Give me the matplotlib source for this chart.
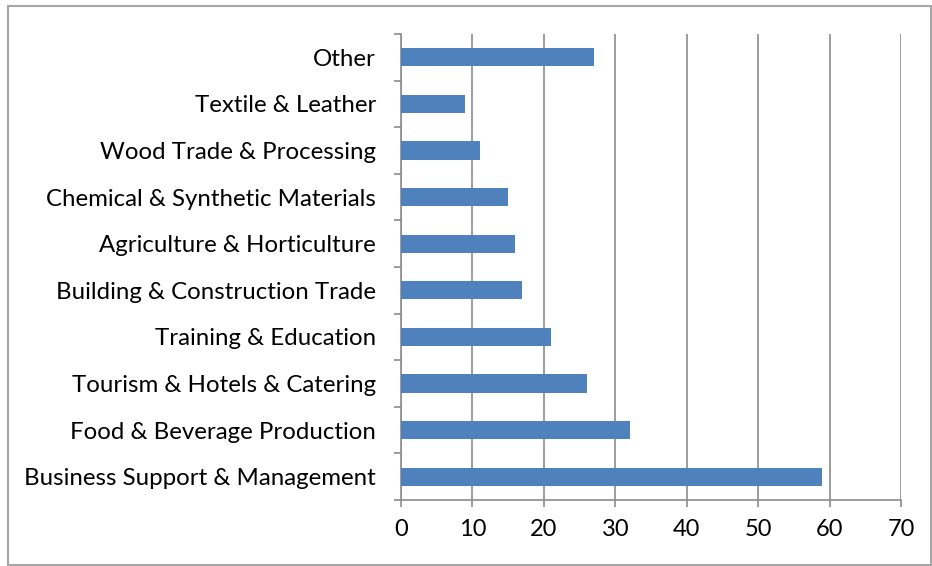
import matplotlib
matplotlib.use('Agg')
import matplotlib.pyplot as plt
from matplotlib.patches import Rectangle
import numpy as np

categories = ['Business Support & Management', 'Food & Beverage Production',
              'Tourism & Hotels & Catering', 'Training & Education',
              'Building & Construction Trade', 'Agriculture & Horticulture',
              'Chemical & Synthetic Materials', 'Wood Trade & Processing',
              'Textile & Leather', 'Other']
values = [59, 32, 26, 21, 17, 16, 15, 11, 9, 27]
x_ticks = [0, 10, 20, 30, 40, 50, 60, 70]

plt.rcParams['font.family'] = ['Lato', 'DejaVu Sans']

W, H = 932, 566
fig = plt.figure(figsize=(W / 100, H / 100), dpi=100)
ax = fig.add_axes([401 / W, 1 - 500 / H, 500 / W, 466 / H])

# outer chart border
fig.patches.append(Rectangle((8 / W, 1 - 565 / H), 923 / W, 559 / H,
                             transform=fig.transFigure, fill=False,
                             edgecolor='#a6a6a6', linewidth=1.5))

y = np.arange(len(categories))
ax.barh(y, values, height=0.39, color='#4f81bd', zorder=3)

ax.set_xlim(0, 70)
ax.set_ylim(-0.5, len(categories) - 0.5)
ax.set_xticks(x_ticks)
ax.set_xticklabels([str(t) for t in x_ticks], fontsize=17)
ax.grid(axis='x', color='#8c8c8c', linewidth=1.2, zorder=0)

# category labels sit between the boundary tick marks
ax.set_yticks(y)
ax.set_yticklabels(categories, fontsize=17.3)
ax.set_yticks(np.arange(-0.5, len(categories), 1), minor=True)
ax.tick_params(axis='y', which='major', length=0, pad=18)
ax.tick_params(axis='y', which='minor', length=5, color='#8c8c8c', width=1.2)
ax.tick_params(axis='x', length=5, color='#8c8c8c', width=1.2, pad=9)

for side in ['top', 'right']:
    ax.spines[side].set_visible(False)
for side in ['left', 'bottom']:
    ax.spines[side].set_color('#8c8c8c')
    ax.spines[side].set_linewidth(1.2)

fig.savefig('out.png', dpi=100)
